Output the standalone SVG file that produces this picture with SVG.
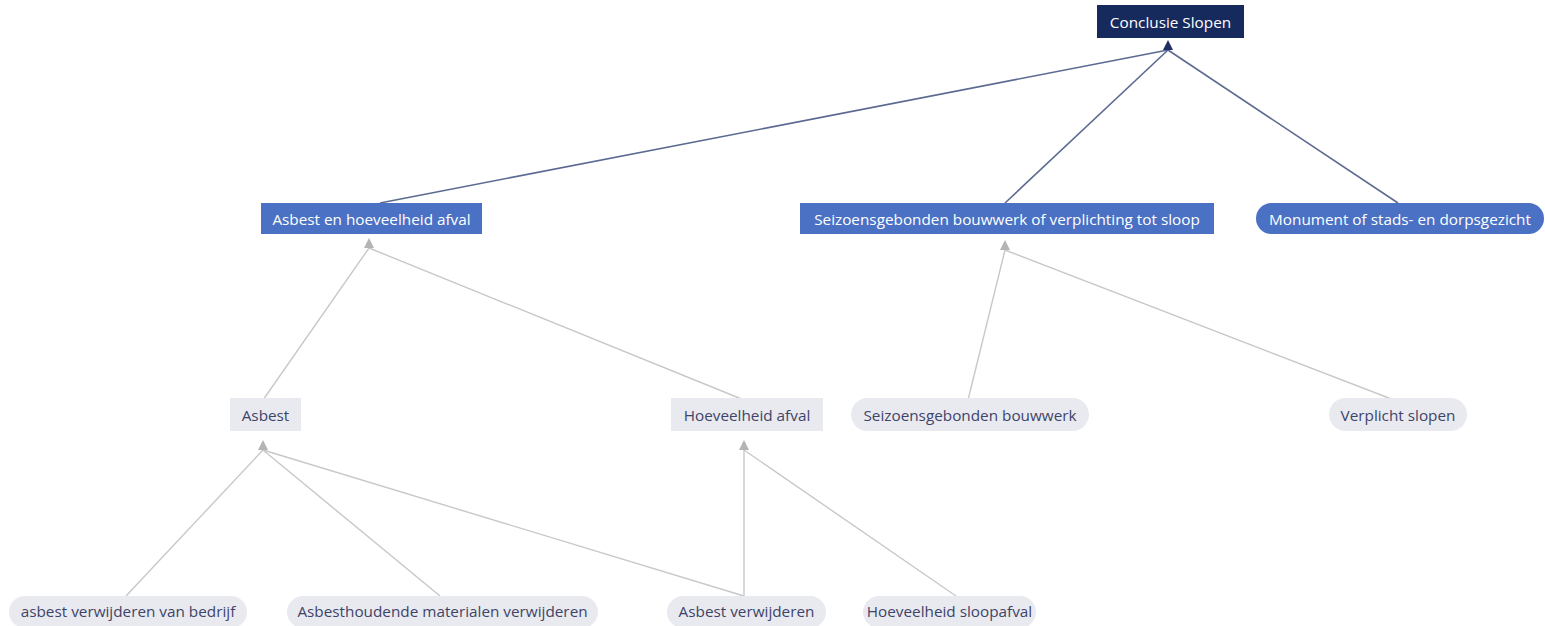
<svg xmlns="http://www.w3.org/2000/svg" width="1545" height="626" viewBox="0 0 1545 626">
<style>
text{font-family:"Open Sans","Noto Sans","Liberation Sans",sans-serif;font-size:15.3px;text-anchor:middle;dominant-baseline:central}
.dark rect{fill:#172a5e}
.dark text{fill:#ffffff}
.mid rect{fill:#4a71c4}
.mid text{fill:#ffffff}
.light rect{fill:#e9eaf0}
.light text{fill:#3e4468}
.ed{stroke:#5c6a92;stroke-width:1.6;fill:none}
.el{stroke:#c8c8c8;stroke-width:1.4;fill:none}
</style>
<rect width="1545" height="626" fill="#ffffff"/>
<g id="connectors">
<path class="ed" d="M1168,50 L380,203"/>
<path class="ed" d="M1168,50 L1005,203"/>
<path class="ed" d="M1168,50 L1398,203"/>
<path d="M1168,40 L1173,50 L1163,50 Z" fill="#1f2f66"/>
<path class="el" d="M369,248 L263,400"/>
<path class="el" d="M369,248 L744,400"/>
<path d="M369,238 L374,248 L364,248 Z" fill="#b4b4b4"/>
<path class="el" d="M1005,250 L968,400"/>
<path class="el" d="M1005,250 L1394,400"/>
<path d="M1005,240 L1010,250 L1000,250 Z" fill="#b4b4b4"/>
<path class="el" d="M263,450 L126,596"/>
<path class="el" d="M263,450 L440,596"/>
<path class="el" d="M263,450 L744,596"/>
<path d="M263,440 L268,450 L258,450 Z" fill="#b4b4b4"/>
<path class="el" d="M744,450 L744,596"/>
<path class="el" d="M744,450 L956,596"/>
<path d="M744,440 L749,450 L739,450 Z" fill="#b4b4b4"/>
</g>
<g id="n-conclusie" class="dark"><rect x="1097" y="5" width="147" height="33"/><text x="1170.5" y="21.5">Conclusie Slopen</text></g>
<g id="n-asbest-hoeveelheid" class="mid"><rect x="261" y="203" width="221" height="31"/><text x="371.5" y="218.5">Asbest en hoeveelheid afval</text></g>
<g id="n-seizoen-verplicht" class="mid"><rect x="800" y="203" width="414" height="31"/><text x="1007" y="218.5">Seizoensgebonden bouwwerk of verplichting tot sloop</text></g>
<g id="n-monument" class="mid"><rect x="1256" y="203" width="288" height="31" rx="15.5"/><text x="1400" y="218.5">Monument of stads- en dorpsgezicht</text></g>
<g id="n-asbest" class="light"><rect x="230" y="398" width="71" height="33"/><text x="265.5" y="414.5">Asbest</text></g>
<g id="n-hoeveelheid" class="light"><rect x="671" y="398" width="152" height="33"/><text x="747" y="414.5">Hoeveelheid afval</text></g>
<g id="n-seizoen" class="light"><rect x="851" y="398" width="238" height="33" rx="16.5"/><text x="970" y="414.5">Seizoensgebonden bouwwerk</text></g>
<g id="n-verplicht" class="light"><rect x="1329" y="398" width="138" height="33" rx="16.5"/><text x="1398" y="414.5">Verplicht slopen</text></g>
<g id="n-bedrijf" class="light"><rect x="9" y="596" width="238" height="32" rx="16"/><text x="128" y="611">asbest verwijderen van bedrijf</text></g>
<g id="n-materialen" class="light"><rect x="287" y="596" width="311" height="32" rx="16"/><text x="442.5" y="611">Asbesthoudende materialen verwijderen</text></g>
<g id="n-asbest-verw" class="light"><rect x="667" y="596" width="159" height="32" rx="16"/><text x="746.5" y="611">Asbest verwijderen</text></g>
<g id="n-sloopafval" class="light"><rect x="863" y="596" width="173" height="32" rx="16"/><text x="949.5" y="611">Hoeveelheid sloopafval</text></g>
</svg>
